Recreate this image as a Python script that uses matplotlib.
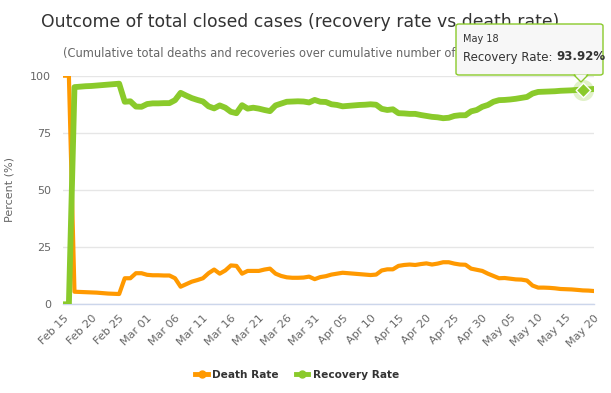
import numpy as np
import pandas as pd
import matplotlib
matplotlib.use('Agg')
import matplotlib.pyplot as plt
from matplotlib.lines import Line2D
from matplotlib.patches import FancyBboxPatch, Polygon

plt.rcParams['font.family'] = ['DejaVu Sans']

# daily values, Feb 15 .. May 20 2020
dates = pd.date_range('2020-02-15', '2020-05-20', freq='D')

recovery_rate = [
    0, 0, 95.0, 95.2, 95.4, 95.5, 95.7, 95.9, 96.1, 96.3,
    96.5, 88.6, 88.8, 86.5, 86.4, 87.6, 87.9, 87.9, 88.0, 88.0,
    89.3, 92.5, 91.3, 90.2, 89.4, 88.7, 86.6, 85.7, 87.0, 86.0,
    84.2, 83.6, 87.1, 85.6, 86.0, 85.6, 85.0, 84.5, 87.0, 87.8,
    88.6, 88.7, 88.8, 88.7, 88.3, 89.4, 88.6, 88.5, 87.5, 87.2,
    86.6, 86.8, 87.0, 87.2, 87.3, 87.5, 87.3, 85.5, 85.0, 85.3,
    83.6, 83.5, 83.3, 83.3, 82.8, 82.4, 82.0, 81.8, 81.4, 81.6,
    82.4, 82.7, 82.7, 84.4, 85.0, 86.4, 87.2, 88.6, 89.3, 89.4,
    89.6, 89.9, 90.3, 90.7, 92.2, 92.9, 93.0, 93.1, 93.2, 93.4,
    93.5, 93.6, 93.8, 93.92, 94.0, 94.2,
]

death_rate = [
    100, 100, 5.5, 5.4, 5.3, 5.2, 5.1, 4.9, 4.7, 4.6,
    4.5, 11.4, 11.4, 13.6, 13.6, 12.9, 12.7, 12.7, 12.6, 12.6,
    11.4, 7.7, 8.8, 9.9, 10.6, 11.4, 13.6, 15.2, 13.4, 14.8,
    17.0, 16.8, 13.4, 14.6, 14.6, 14.6, 15.2, 15.6, 13.4, 12.4,
    11.8, 11.6, 11.6, 11.7, 12.1, 11.0, 11.9, 12.3, 13.0, 13.4,
    13.8, 13.6, 13.4, 13.2, 13.0, 12.8, 13.0, 14.8, 15.3, 15.3,
    16.8, 17.2, 17.4, 17.2, 17.6, 17.9, 17.4, 17.8, 18.4, 18.4,
    17.8, 17.4, 17.3, 15.6, 15.1, 14.6, 13.4, 12.4, 11.4, 11.5,
    11.2, 10.9, 10.8, 10.4, 8.2, 7.3, 7.3, 7.2, 7.0, 6.7,
    6.6, 6.5, 6.3, 6.08, 6.0, 5.8,
]

yticks = [0, 25, 50, 75, 100]
hover_idx = 93  # May 18

orange = '#FF9900'
green = '#8ACA2B'

W, H = 611, 393
fig = plt.figure(figsize=(W / 100, H / 100), dpi=100)

def fx(x):
    return x / W

def fy(y):
    return 1 - y / H

ax = fig.add_axes([fx(63.3), fy(304.3), fx(594) - fx(63.3), fy(75.7) - fy(304.3)])

x = np.arange(len(dates))
ax.plot(x, death_rate, color=orange, lw=3.0, solid_joinstyle='round', zorder=3)
ax.plot(x, recovery_rate, color=green, lw=4.2, solid_joinstyle='round', zorder=4)

# hover marker
ax.scatter([x[hover_idx]], [recovery_rate[hover_idx]], s=230, color=green, alpha=0.25,
           linewidths=0, zorder=5, clip_on=False)
ax.scatter([x[hover_idx]], [recovery_rate[hover_idx]], s=55, marker='D', color=green,
           edgecolors='white', linewidths=1, zorder=6, clip_on=False)

ax.set_xlim(0, len(dates) - 1)
ax.set_ylim(0, 100)
ax.set_yticks(yticks)
ax.set_yticklabels([str(v) for v in yticks], color='#666666', fontsize=8)
tick_pos = x[::5]
ax.set_xticks(tick_pos)
ax.set_xticklabels([d.strftime('%b %d') for d in dates[::5]], rotation=45, ha='right',
                   rotation_mode='anchor', color='#666666', fontsize=8)
ax.tick_params(axis='y', length=0, pad=9)
ax.tick_params(axis='x', length=0, pad=6)
ax.grid(axis='y', color='#e6e6e6', lw=1)
ax.set_axisbelow(True)
for s in ['top', 'right', 'left']:
    ax.spines[s].set_visible(False)
ax.spines['bottom'].set_color('#ccd6eb')
ax.spines['bottom'].set_linewidth(1)
ax.set_ylabel('Percent (%)', color='#666666', fontsize=8, labelpad=11)

fig.text(fx(300), fy(22), 'Outcome of total closed cases (recovery rate vs death rate)',
         ha='center', va='center', fontsize=12.4, color='#333333')
fig.text(fx(300), fy(53), '(Cumulative total deaths and recoveries over cumulative number of closed cases)',
         ha='center', va='center', fontsize=8.3, color='#666666')

# legend
handles = [
    Line2D([], [], color=orange, lw=3.5, marker='o', markersize=5),
    Line2D([], [], color=green, lw=3.5, marker='o', markersize=5),
]
fig.legend(handles, ['Death Rate', 'Recovery Rate'], loc='center', bbox_to_anchor=(fx(297), fy(375)),
           ncol=2, frameon=False, handlelength=1.2, handletextpad=0.4, columnspacing=1.6,
           prop={'weight': 'bold', 'size': 7.6}, labelcolor='#333333')

# tooltip
box = FancyBboxPatch((fx(456), fy(75)), fx(603) - fx(456), fy(24) - fy(75),
                     boxstyle='round,pad=0,rounding_size=0.005', transform=fig.transFigure,
                     facecolor='#f7f7f7', edgecolor=green, lw=1, zorder=10)
fig.patches.append(box)
tri = Polygon([(fx(574), fy(75)), (fx(588), fy(75)), (fx(581), fy(82))], closed=True,
              transform=fig.transFigure, facecolor='#f7f7f7', edgecolor=green, lw=1, zorder=11)
fig.patches.append(tri)
cover = Polygon([(fx(575), fy(74.4)), (fx(587), fy(74.4)), (fx(581), fy(80.5))], closed=True,
                transform=fig.transFigure, facecolor='#f7f7f7', edgecolor='none', zorder=12)
fig.patches.append(cover)

fig.text(fx(463), fy(39), dates[hover_idx].strftime('%b %d').replace(' 0', ' '),
         fontsize=7, color='#333333', va='center', zorder=13)
t1 = fig.text(fx(463), fy(57), 'Recovery Rate: ', fontsize=8.5, color='#333333',
              va='center', zorder=13)
fig.canvas.draw()
bb = t1.get_window_extent()
fig.text(bb.x1 / W, fy(57), f'{recovery_rate[hover_idx]:.2f}%', fontsize=8.5,
         fontweight='bold', color='#333333', va='center', zorder=13)

fig.savefig('out.png', dpi=100)
